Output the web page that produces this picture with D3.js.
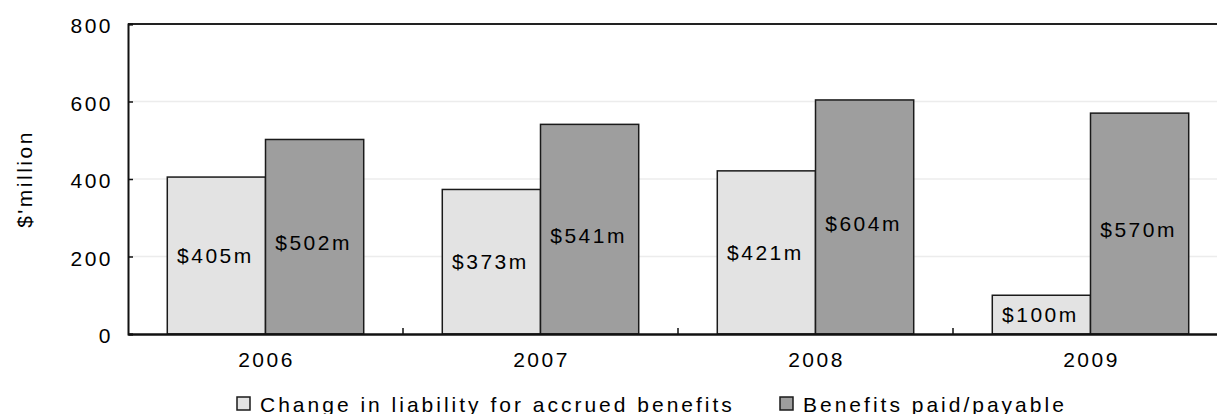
<!DOCTYPE html>
<html>
<head>
<meta charset="utf-8">
<script src="https://cdn.jsdelivr.net/npm/d3@7"></script>
<style>
  html, body { margin: 0; padding: 0; background: #fff; }
  svg { display: block; }
  text { font-family: "Liberation Sans", Arial, sans-serif; font-size: 21px; fill: #000; letter-spacing: 2.5px; }
  .legend text { letter-spacing: 3px; }
</style>
</head>
<body>
<svg id="chart" width="1217" height="414"></svg>
<script>
// Pension scheme flows by year
const years = ["2006", "2007", "2008", "2009"];
const seriesNames = ["Change in liability for accrued benefits", "Benefits paid/payable"];
const changeInLiability = [405, 373, 421, 100];
const benefitsPaid = [502, 541, 604, 570];
const yTicks = [0, 200, 400, 600, 800];
const yTitle = "$'million";

const seriesValues = [changeInLiability, benefitsPaid];
const fills = ["#e3e3e3", "#9e9e9e"];

const svg = d3.select("#chart");
const margin = { left: 128, top: 24 };
const plotW = 1100, plotH = 310;

const x0 = d3.scaleBand().domain(years).range([0, plotW]).paddingInner(0).paddingOuter(0);
const x1 = d3.scaleBand().domain(d3.range(seriesNames.length)).range([0, x0.bandwidth()]).paddingInner(0).paddingOuter(0.4);
const y = d3.scaleLinear().domain([0, 800]).range([plotH, 0]);

const g = svg.append("g").attr("transform", `translate(${margin.left},${margin.top})`);

// light gridlines
g.append("g").selectAll("line")
  .data(yTicks.filter(t => t > 0 && t < 800))
  .join("line")
  .attr("x1", 0).attr("x2", plotW)
  .attr("y1", d => y(d)).attr("y2", d => y(d))
  .attr("stroke", "#ececec").attr("stroke-width", 1.5);

// top border
g.append("line")
  .attr("x1", 0).attr("x2", plotW)
  .attr("y1", y(800)).attr("y2", y(800))
  .attr("stroke", "#222").attr("stroke-width", 2);

// bars
const groups = g.append("g").selectAll("g")
  .data(years)
  .join("g")
  .attr("transform", d => `translate(${x0(d)},0)`);

groups.selectAll("rect")
  .data((d, i) => seriesValues.map((vals, s) => ({ s, v: vals[i] })))
  .join("rect")
  .attr("x", d => x1(d.s))
  .attr("y", d => y(d.v))
  .attr("width", x1.bandwidth())
  .attr("height", d => plotH - y(d.v))
  .attr("fill", d => fills[d.s])
  .attr("stroke", "#1a1a1a")
  .attr("stroke-width", 1.5);

// value labels in the middle of each bar
groups.selectAll("text.val")
  .data((d, i) => seriesValues.map((vals, s) => ({ s, v: vals[i] })))
  .join("text")
  .attr("class", "val")
  .attr("x", d => x1(d.s) + x1.bandwidth() / 2 - 1)
  .attr("y", d => (y(d.v) + plotH) / 2 + (d.s === 1 ? 6 : 0))
  .attr("dy", "0.36em")
  .attr("text-anchor", "middle")
  .text(d => `$${d.v}m`);

// y axis
const yAxis = g.append("g")
  .call(d3.axisLeft(y).tickValues(yTicks).tickSize(-5).tickPadding(15).tickFormat(d3.format("d")));
yAxis.select(".domain").attr("stroke", "#111").attr("stroke-width", 2);
yAxis.selectAll(".tick line").attr("stroke", "#111").attr("stroke-width", 1.5);
yAxis.selectAll(".tick text").attr("font-size", null).attr("font-family", null).attr("dy", "0.42em");

// x axis with ticks between categories
const xAxis = g.append("g").attr("transform", `translate(0,${plotH})`)
  .call(d3.axisBottom(x0).tickSize(0).tickPadding(18));
xAxis.select(".domain").attr("stroke", "#111").attr("stroke-width", 2.5);
xAxis.selectAll(".tick text").attr("font-size", null).attr("font-family", null).attr("dx", "1");
xAxis.selectAll("line.sep")
  .data(years.slice(1))
  .join("line")
  .attr("class", "sep")
  .attr("x1", d => x0(d)).attr("x2", d => x0(d))
  .attr("y1", 0).attr("y2", -6)
  .attr("stroke", "#111").attr("stroke-width", 1.5);

// y axis title
svg.append("text")
  .attr("transform", `translate(32,${margin.top + plotH / 2}) rotate(-90)`)
  .attr("text-anchor", "middle")
  .text(yTitle);

// legend
const legendX = [237, 780];
const legend = svg.append("g").attr("class", "legend").selectAll("g")
  .data(seriesNames)
  .join("g")
  .attr("transform", (d, i) => `translate(${legendX[i]},397)`);
legend.append("rect")
  .attr("width", 13).attr("height", 13)
  .attr("fill", (d, i) => fills[i])
  .attr("stroke", "#1a1a1a").attr("stroke-width", 1.5);
legend.append("text")
  .attr("x", 23).attr("y", 14.5)
  .text(d => d);
</script>
</body>
</html>
